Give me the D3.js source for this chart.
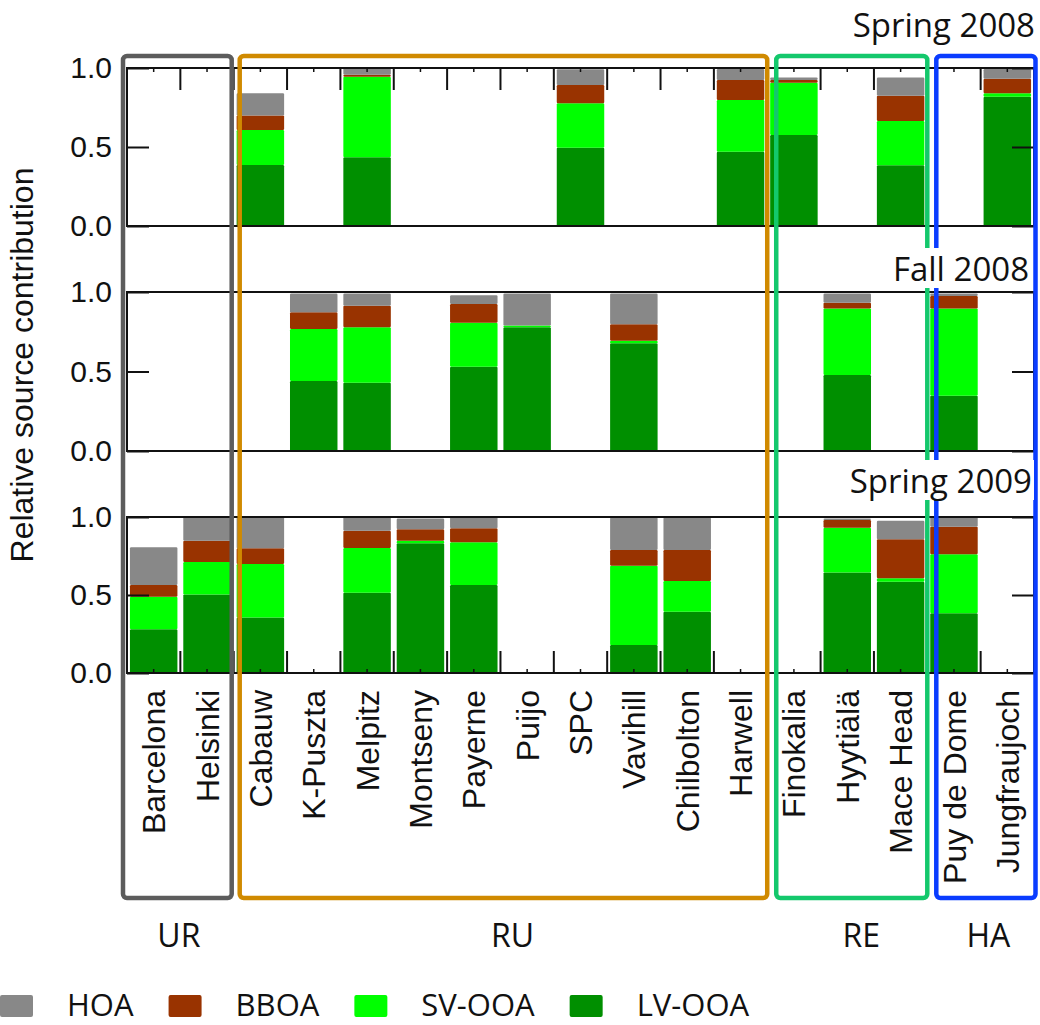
<!DOCTYPE html>
<html>
<head>
<meta charset="utf-8">
<script src="https://cdn.jsdelivr.net/npm/d3@7"></script>
<style>
  body { margin: 0; background: #fff; }
  svg { display: block; }
</style>
</head>
<body>
<div id="chart"></div>
<script>
// sites along the x axis
const sites = ["Barcelona", "Helsinki", "Cabauw", "K-Puszta", "Melpitz", "Montseny", "Payerne", "Puijo",
  "SPC", "Vavihill", "Chilbolton", "Harwell", "Finokalia", "Hyytiälä", "Mace Head", "Puy de Dome", "Jungfraujoch"];
const seasons = ["Spring 2008", "Fall 2008", "Spring 2009"];

// stacking order, bottom up
const sources = ["LV-OOA", "SV-OOA", "BBOA", "HOA"];
const sourceColors = ["#008f00", "#00ff00", "#993300", "#888888"];
const legendOrder = ["HOA", "BBOA", "SV-OOA", "LV-OOA"];

// relative contributions per site (null = no data for that campaign)
const n = null;
const lvSpring2008  = [n, n, 0.386, n, 0.435, n, n, n, 0.496, n, n, 0.470, 0.576, n, 0.384, n, 0.818];
const svSpring2008  = [n, n, 0.222, n, 0.510, n, n, n, 0.281, n, n, 0.327, 0.331, n, 0.281, n, 0.022];
const bbSpring2008  = [n, n, 0.092, n, 0.013, n, n, n, 0.115, n, n, 0.127, 0.017, n, 0.160, n, 0.092];
const hoaSpring2008 = [n, n, 0.140, n, 0.040, n, n, n, 0.100, n, n, 0.070, 0.016, n, 0.115, n, 0.062];

const lvFall2008  = [n, n, n, 0.440, 0.430, n, 0.530, 0.778, n, 0.677, n, n, n, 0.478, n, 0.348, n];
const svFall2008  = [n, n, n, 0.327, 0.348, n, 0.277, 0.012, n, 0.017, n, n, n, 0.419, n, 0.549, n];
const bbFall2008  = [n, n, n, 0.105, 0.136, n, 0.118, 0.000, n, 0.103, n, n, n, 0.036, n, 0.078, n];
const hoaFall2008 = [n, n, n, 0.118, 0.076, n, 0.055, 0.200, n, 0.193, n, n, n, 0.057, n, 0.015, n];

const lvSpring2009  = [0.280, 0.504, 0.355, n, 0.515, 0.831, 0.564, n, n, 0.179, 0.393, n, n, 0.645, 0.585, 0.383, n];
const svSpring2009  = [0.209, 0.208, 0.344, n, 0.286, 0.017, 0.274, n, n, 0.509, 0.197, n, n, 0.286, 0.022, 0.378, n];
const bbSpring2009  = [0.075, 0.136, 0.100, n, 0.111, 0.073, 0.090, n, n, 0.100, 0.198, n, n, 0.050, 0.250, 0.177, n];
const hoaSpring2009 = [0.242, 0.150, 0.199, n, 0.086, 0.069, 0.070, n, n, 0.208, 0.208, n, n, 0.010, 0.119, 0.060, n];

const lvBySeason  = [lvSpring2008, lvFall2008, lvSpring2009];
const svBySeason  = [svSpring2008, svFall2008, svSpring2009];
const bbBySeason  = [bbSpring2008, bbFall2008, bbSpring2009];
const hoaBySeason = [hoaSpring2008, hoaFall2008, hoaSpring2009];

// site groups (urban, rural, remote, high altitude)
const groupNames = ["UR", "RU", "RE", "HA"];
const groupFirst = [0, 2, 12, 15];
const groupLast = [1, 11, 14, 16];
const groupColors = ["#5c5c5c", "#d08a00", "#14c86c", "#0a3cff"];

const yTicks = [0, 0.5, 1.0];

// ---- layout ----
const W = 1040, H = 1025;
const plotLeft = 127, plotRight = 1034;
const panelTop = [68, 292, 517];
const panelBottom = [226, 451, 673];
const seasonLabelX = [1035, 1029, 1032];
const seasonLabelY = [37, 281, 493];
const groupPadLeft = [-4, 6, 9, 9];
const groupPadRight = [-2, 0, 0, 1.5];
const groupLabelShift = [1.5, 9, 9.5, 2.5];
const boxTop = 56, boxBottom = 898;

const armFont = "'Liberation Sans', Arial, Helvetica, sans-serif";
const humFont = "'Open Sans', 'Noto Sans', sans-serif";

const svg = d3.select("#chart").append("svg")
    .attr("width", W)
    .attr("height", H);

svg.append("rect").attr("width", W).attr("height", H).attr("fill", "#fff");

const x = d3.scaleBand()
    .domain(sites)
    .range([plotLeft, plotRight])
    .paddingInner(0.11)
    .paddingOuter(0.055);
const step = x.step();
const boundary = i => plotLeft + i * step;

const stack = d3.stack().keys(sources);

const barLayer = svg.append("g");
const axisLayer = svg.append("g");
const boxLayer = svg.append("g");
const labelLayer = svg.append("g");

seasons.forEach((season, p) => {
    const y = d3.scaleLinear().domain([0, 1]).range([panelBottom[p], panelTop[p]]);

    const rows = sites.map((s, i) => ({
        site: s,
        "LV-OOA": lvBySeason[p][i],
        "SV-OOA": svBySeason[p][i],
        "BBOA": bbBySeason[p][i],
        "HOA": hoaBySeason[p][i]
    })).filter(d => d["LV-OOA"] !== null);

    const series = stack(rows);

    barLayer.append("g")
        .selectAll("g")
        .data(series)
        .join("g")
        .attr("fill", (d, i) => sourceColors[i])
        .selectAll("rect")
        .data(d => d)
        .join("rect")
        .attr("x", d => x(d.data.site))
        .attr("width", x.bandwidth())
        .attr("y", d => y(d[1]))
        .attr("height", d => Math.max(0, y(d[0]) - y(d[1])))
        .attr("rx", 1.2);

    const g = axisLayer.append("g");

    // frame
    g.append("rect")
        .attr("x", plotLeft)
        .attr("y", panelTop[p])
        .attr("width", plotRight - plotLeft)
        .attr("height", panelBottom[p] - panelTop[p])
        .attr("fill", "none")
        .attr("stroke", "#111")
        .attr("stroke-width", 2);

    const yLeft = g.append("g")
        .attr("transform", `translate(${plotLeft},0)`)
        .call(d3.axisLeft(y).tickValues(yTicks).tickFormat(d3.format(".1f"))
            .tickSizeInner(-22).tickSizeOuter(0).tickPadding(15));
    yLeft.select(".domain").remove();
    yLeft.selectAll("line").attr("stroke", "#111").attr("stroke-width", 2);
    yLeft.selectAll("text")
        .attr("fill", "#111")
        .style("font-family", armFont)
        .style("font-size", "30px");

    const yRight = g.append("g")
        .attr("transform", `translate(${plotRight},0)`)
        .call(d3.axisRight(y).tickValues(yTicks).tickFormat("")
            .tickSizeInner(-22).tickSizeOuter(0));
    yRight.select(".domain").remove();
    yRight.selectAll("line").attr("stroke", "#111").attr("stroke-width", 2);

    // category ticks: minor at centres, major at boundaries
    if (p === 0 || p === 2) {
        const edge = p === 0 ? panelTop[p] : panelBottom[p];
        const dir = p === 0 ? 1 : -1;
        const ax = p === 0 ? d3.axisTop(x) : d3.axisBottom(x);
        const xg = g.append("g")
            .attr("transform", `translate(0,${edge})`)
            .call(ax.tickSizeInner(-4).tickSizeOuter(0).tickFormat(""));
        xg.select(".domain").remove();
        xg.selectAll("line").attr("stroke", "#111").attr("stroke-width", 1.5);

        g.append("g")
            .selectAll("line")
            .data(d3.range(1, sites.length))
            .join("line")
            .attr("x1", d => boundary(d))
            .attr("x2", d => boundary(d))
            .attr("y1", edge)
            .attr("y2", edge + dir * 22)
            .attr("stroke", "#111")
            .attr("stroke-width", 2);
    }
});

// site names under the bottom panel
labelLayer.append("g")
    .selectAll("text")
    .data(sites)
    .join("text")
    .attr("transform", d => `translate(${x(d) + x.bandwidth() / 2},690) rotate(-90)`)
    .attr("text-anchor", "end")
    .attr("dy", "0.36em")
    .attr("fill", "#111")
    .style("font-family", armFont)
    .style("font-size", "32px")
    .text(d => d);

// group boxes
groupNames.forEach((name, k) => {
    const x0 = boundary(groupFirst[k]) + groupPadLeft[k];
    const x1 = boundary(groupLast[k] + 1) + groupPadRight[k];
    boxLayer.append("rect")
        .attr("x", x0)
        .attr("y", boxTop)
        .attr("width", x1 - x0)
        .attr("height", boxBottom - boxTop)
        .attr("rx", 4)
        .attr("fill", "none")
        .attr("stroke", groupColors[k])
        .attr("stroke-width", 4.5);

    labelLayer.append("text")
        .attr("x", (x0 + x1) / 2 + groupLabelShift[k])
        .attr("y", 947)
        .attr("text-anchor", "middle")
        .attr("fill", "#111")
        .style("font-family", humFont)
        .style("font-size", "32px")
        .text(name);
});

// season labels with a white backing
seasons.forEach((season, p) => {
    const sg = labelLayer.append("g");
    const bg = sg.append("rect").attr("fill", "#fff");
    const t = sg.append("text")
        .attr("x", seasonLabelX[p])
        .attr("y", seasonLabelY[p])
        .attr("text-anchor", "end")
        .attr("fill", "#111")
        .style("font-family", humFont)
        .style("font-size", "33px")
        .text(season);
    const bb = t.node().getBBox();
    if (p > 0) {
        bg.attr("x", bb.x - 4)
            .attr("y", bb.y + 2)
            .attr("width", bb.width + 6)
            .attr("height", bb.height - 5);
    }
});

// y axis title
labelLayer.append("text")
    .attr("transform", "translate(33,365) rotate(-90)")
    .attr("text-anchor", "middle")
    .attr("fill", "#111")
    .style("font-family", armFont)
    .style("font-size", "32px")
    .text("Relative source contribution");

// legend
let lx = 0;
legendOrder.forEach(key => {
    const c = sourceColors[sources.indexOf(key)];
    const lg = labelLayer.append("g");
    lg.append("rect")
        .attr("x", lx)
        .attr("y", 995)
        .attr("width", 33)
        .attr("height", 22)
        .attr("rx", 2)
        .attr("fill", c);
    const t = lg.append("text")
        .attr("x", lx + 67)
        .attr("y", 1016)
        .attr("fill", "#111")
        .style("font-family", humFont)
        .style("font-size", "31px")
        .text(key);
    lx = lx + 67 + t.node().getComputedTextLength() + 35;
});
</script>
</body>
</html>
